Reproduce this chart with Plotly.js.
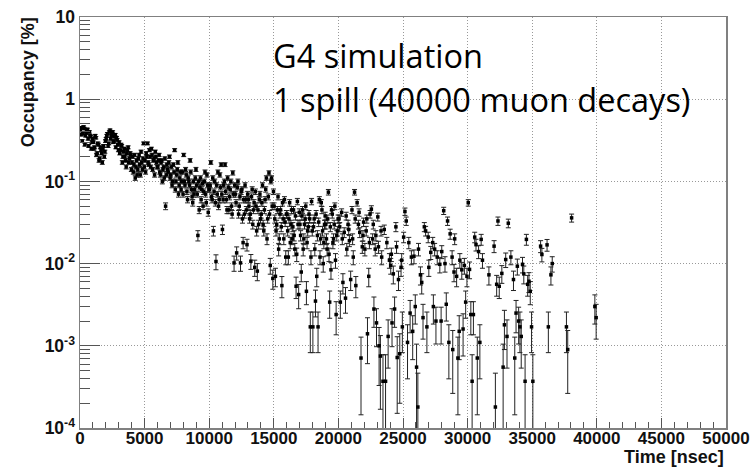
<!DOCTYPE html>
<html>
<head>
<meta charset="utf-8">
<script src="https://cdn.plot.ly/plotly-3.0.1.min.js"></script>
<style>
html,body{margin:0;padding:0;background:#fff;}
#chart{width:751px;height:468px;}
#chart .xtick text, #chart .ytick text { font-weight: bold !important; }
</style>
</head>
<body>
<div id="chart"></div>
<script>
// ---- Data (occupancy in %) ----
// Histogram with 50 ns bins from 0 to 20000 ns; "A" arrays hold the bins starting
// at even multiples of 50 ns, "B" arrays the bins in between.
const binWidthNs = 50;
const occ0to10kA = [
  0.42, 0.45, 0.38, 0.44, 0.36, 0.41, 0.33, 0.40, 0.35, 0.30,
  0.30, 0.26, 0.34, 0.22, 0.28, 0.19, 0.24, 0.17, 0.27, 0.23,
  0.33, 0.38, 0.29, 0.42, 0.36, 0.40, 0.31, 0.37, 0.34, 0.28,
  0.30, 0.24, 0.27, 0.20, 0.25, 0.18, 0.22, 0.26, 0.19, 0.21,
  0.17, 0.13, 0.21, 0.15, 0.12, 0.19, 0.16, 0.23, 0.14, 0.29,
  0.18, 0.22, 0.29, 0.16, 0.20, 0.25, 0.14, 0.19, 0.23, 0.17,
  0.15, 0.21, 0.12, 0.18, 0.14, 0.11, 0.05, 0.16, 0.13, 0.20,
  0.12, 0.09, 0.16, 0.24, 0.10, 0.14, 0.07, 0.11, 0.08, 0.13,
  0.21, 0.09, 0.12, 0.06, 0.10, 0.18, 0.08, 0.055, 0.07, 0.11,
  0.09, 0.022, 0.045, 0.11, 0.08, 0.05, 0.10, 0.07, 0.12, 0.042
];
const occ0to10kB = [
  0.37, 0.31, 0.46, 0.28, 0.39, 0.43, 0.27, 0.36, 0.25, 0.33,
  0.25, 0.36, 0.21, 0.29, 0.18, 0.26, 0.22, 0.25, 0.20, 0.31,
  0.36, 0.27, 0.40, 0.33, 0.38, 0.30, 0.35, 0.26, 0.32, 0.24,
  0.22, 0.28, 0.17, 0.23, 0.20, 0.15, 0.24, 0.17, 0.22, 0.14,
  0.20, 0.16, 0.11, 0.18, 0.14, 0.21, 0.12, 0.17, 0.19, 0.15,
  0.13, 0.20, 0.17, 0.24, 0.15, 0.21, 0.18, 0.12, 0.20, 0.15,
  0.18, 0.13, 0.17, 0.10, 0.15, 0.19, 0.12, 0.14, 0.17, 0.11,
  0.15, 0.10, 0.13, 0.08, 0.12, 0.17, 0.09, 0.13, 0.10, 0.07,
  0.10, 0.14, 0.075, 0.11, 0.09, 0.13, 0.065, 0.10, 0.08, 0.14,
  0.07, 0.10, 0.085, 0.06, 0.095, 0.075, 0.13, 0.055, 0.09, 0.08
];
const occ10kto20kA = [
  0.08, 0.17, 0.06, 0.025, 0.10, 0.0106, 0.07, 0.05, 0.12, 0.16,
  0.026, 0.09, 0.16, 0.06, 0.11, 0.045, 0.08, 0.05, 0.127, 0.0102,
  0.07, 0.0135, 0.10, 0.05, 0.0102, 0.08, 0.018, 0.04, 0.06, 0.017,
  0.06, 0.035, 0.0107, 0.08, 0.045, 0.009, 0.05, 0.0081, 0.03, 0.07,
  0.04, 0.09, 0.025, 0.06, 0.11, 0.035, 0.127, 0.0095, 0.11, 0.0066,
  0.05, 0.007, 0.03, 0.065, 0.02, 0.045, 0.0054, 0.035, 0.06, 0.012,
  0.04, 0.012, 0.055, 0.03, 0.02, 0.045, 0.015, 0.0053, 0.057, 0.0042,
  0.03, 0.0079, 0.045, 0.02, 0.035, 0.0046, 0.025, 0.04, 0.0017, 0.057,
  0.0017, 0.035, 0.0035, 0.007, 0.0017, 0.06, 0.02, 0.045, 0.01, 0.03,
  0.03, 0.015, 0.074, 0.0034, 0.0084, 0.04, 0.02, 0.05, 0.0024, 0.025
];
const occ10kto20kB = [
  0.09, 0.065, 0.11, 0.075, 0.055, 0.09, 0.13, 0.06, 0.085, 0.07,
  0.06, 0.10, 0.075, 0.045, 0.085, 0.065, 0.10, 0.04, 0.07, 0.09,
  0.055, 0.085, 0.04, 0.065, 0.075, 0.035, 0.06, 0.09, 0.045, 0.07,
  0.05, 0.04, 0.065, 0.03, 0.055, 0.075, 0.025, 0.045, 0.06, 0.035,
  0.055, 0.03, 0.045, 0.08, 0.02, 0.065, 0.04, 0.10, 0.05, 0.075,
  0.035, 0.025, 0.045, 0.015, 0.04, 0.028, 0.055, 0.02, 0.032, 0.04,
  0.025, 0.035, 0.018, 0.045, 0.028, 0.022, 0.038, 0.013, 0.03, 0.042,
  0.022, 0.038, 0.015, 0.03, 0.05, 0.018, 0.028, 0.035, 0.012, 0.025,
  0.028, 0.015, 0.04, 0.022, 0.032, 0.012, 0.055, 0.025, 0.018, 0.038,
  0.02, 0.035, 0.013, 0.028, 0.045, 0.018, 0.03, 0.011, 0.022, 0.035
];
// Sparse tail: only non-empty bins (bin centre in ns, occupancy in %)
const time20to30k = [
  20050, 20150, 20250, 20350, 20450, 20550, 20650, 20750, 20850, 20950,
  21050, 21150, 21250, 21350, 21450, 21550, 21650, 21750, 21850, 21950,
  22050, 22150, 22250, 22350, 22450, 22550, 22650, 22750, 22850, 22950,
  23050, 23150, 23250, 23350, 23450, 23550, 23650, 23750, 23850, 23950,
  24050, 24150, 24250, 24350, 24450, 24550, 24650, 24750, 24850, 24950,
  25050, 25150, 25250, 25350, 25450, 25550, 25650, 25750, 25850, 25950,
  26050, 26150, 26350, 26450, 26550, 26650, 26750, 26850, 26950, 27150,
  27350, 27450, 27550, 27650, 27850, 27950, 28150, 28250, 28350, 28450,
  28550, 28650, 28850, 28950, 29150, 29250, 29350, 29550, 29650, 29750,
  29850, 29950
];
const occ20to30k = [
  0.035, 0.0034, 0.042, 0.0059, 0.024, 0.0038, 0.015, 0.03, 0.019, 0.0064,
  0.045, 0.012, 0.074, 0.0054, 0.055, 0.03, 0.024, 0.00071, 0.016, 0.032,
  0.015, 0.025, 0.0014, 0.007, 0.04, 0.046, 0.02, 0.0028, 0.015, 0.0019,
  0.037, 0.001, 0.00075, 0.012, 0.00037, 0.026, 0.00037, 0.018, 0.0013, 0.011,
  0.0095, 0.0019, 0.0075, 0.0028, 0.028, 0.00072, 0.0064, 0.0008, 0.009, 0.0017,
  0.021, 0.043, 0.033, 0.0011, 0.018, 0.0025, 0.012, 0.0015, 0.0123, 0.003,
  0.00055, 0.00018, 0.0073, 0.0059, 0.0022, 0.028, 0.025, 0.0017, 0.021, 0.0137,
  0.003, 0.015, 0.002, 0.012, 0.0098, 0.002, 0.044, 0.01, 0.0032, 0.033,
  0.0011, 0.023, 0.0009, 0.0079, 0.007, 0.00071, 0.0015, 0.0084, 0.0016, 0.0095,
  0.0034, 0.007
];
const time20to30kB = [
  20100, 20300, 20600, 20800, 21100, 21300, 21600, 21900, 22200, 22400,
  22700, 22900, 23100, 23300, 24100, 24500, 24900, 26200, 27000, 27300,
  28000, 28800, 29000, 29400
];
const occ20to30kB = [
  0.028, 0.02, 0.038, 0.026, 0.02, 0.035, 0.042, 0.022, 0.035, 0.018,
  0.03, 0.022, 0.016, 0.025, 0.013, 0.016, 0.011, 0.015, 0.009, 0.018,
  0.014, 0.012, 0.02, 0.011
];
const time30to40k = [
  30050, 30150, 30250, 30350, 30450, 30550, 30650, 30750, 30850, 30950,
  31050, 31150, 31650, 32050, 32150, 32250, 32350, 32450, 32650, 32750,
  32850, 32950, 33050, 33150, 33350, 33550, 33650, 33750, 33850, 33950,
  34050, 34150, 34250, 34350, 34450, 34550, 34650, 34750, 34850, 34950,
  35050, 35650, 35750, 36150, 36250, 36450, 36550, 37650, 37750, 38050,
  39850, 39950
];
const occ30to40k = [
  0.055, 0.0085, 0.0024, 0.00037, 0.0024, 0.021, 0.017, 0.00071, 0.014, 0.0011,
  0.0197, 0.011, 0.0073, 0.0163, 0.00018, 0.0056, 0.033, 0.0053, 0.0076, 0.00055,
  0.0018, 0.0112, 0.0013, 0.031, 0.012, 0.0064, 0.00071, 0.0025, 0.0093, 0.002,
  0.0017, 0.0013, 0.0098, 0.0075, 0.00037, 0.0197, 0.0056, 0.0061, 0.0046, 0.0017,
  0.00037, 0.0163, 0.0129, 0.0169, 0.0017, 0.0073, 0.01, 0.0017, 0.0009, 0.036,
  0.003, 0.0022
];
// Occupancy (%) carried by a single hit; error bars are Poisson: sqrt(N) hits
const occPerHit = 0.00045;

const yTickVals = [1e-4, 1e-3, 1e-2, 1e-1, 1, 10];
const yTickText = ['10<sup>-4</sup>', '10<sup>-3</sup>', '10<sup>-2</sup>', '10<sup>-1</sup>', '1', '10'];
const xTickVals = [0, 5000, 10000, 15000, 20000, 25000, 30000, 35000, 40000, 45000, 50000];
const yMinorVals = [];
[1e-4, 1e-3, 1e-2, 1e-1, 1].forEach(d => { for (let k = 2; k <= 9; k++) yMinorVals.push(k * d); });
const xMinorVals = [];
for (let t = 1000; t < 50000; t += 1000) if (t % 5000) xMinorVals.push(t);

// ---- Build the trace ----
const xs = [], ys = [];
occ0to10kA.forEach((v, i) => { xs.push((2 * i + 0.5) * binWidthNs); ys.push(v); });
occ0to10kB.forEach((v, i) => { xs.push((2 * i + 1.5) * binWidthNs); ys.push(v); });
occ10kto20kA.forEach((v, i) => { xs.push(10000 + (2 * i + 0.5) * binWidthNs); ys.push(v); });
occ10kto20kB.forEach((v, i) => { xs.push(10000 + (2 * i + 1.5) * binWidthNs); ys.push(v); });
time20to30k.forEach((t, i) => { xs.push(t); ys.push(occ20to30k[i]); });
time20to30kB.forEach((t, i) => { xs.push(t); ys.push(occ20to30kB[i]); });
time30to40k.forEach((t, i) => { xs.push(t); ys.push(occ30to40k[i]); });
const errs = ys.map(v => Math.sqrt(v / occPerHit) * occPerHit);

const trace = {
  type: 'scatter', mode: 'markers', x: xs, y: ys,
  marker: {symbol: 'square', size: 3.5, color: '#000'},
  error_y: {type: 'data', array: errs, visible: true, color: '#222', thickness: 1, width: 2.5},
  hoverinfo: 'skip', cliponaxis: true
};

const gridDash = '1px,2px';
const layout = {
  width: 751, height: 468,
  margin: {l: 80, r: 25, t: 17, b: 40, pad: 0},
  paper_bgcolor: '#fff', plot_bgcolor: '#fff',
  showlegend: false,
  xaxis: {
    range: [0, 50000], tickmode: 'array', tickvals: xTickVals, ticktext: xTickVals.map(String),
    ticks: 'inside', ticklen: 10, tickwidth: 1, tickcolor: '#555',
    showline: true, linecolor: '#808080', linewidth: 1.5, mirror: true,
    showgrid: true, gridcolor: '#999', griddash: gridDash, gridwidth: 1,
    zeroline: false, ticklabelstandoff: -6,
    tickfont: {family: 'Liberation Sans', size: 17, color: '#111', weight: 700},
    minor: {tickmode: 'array', tickvals: xMinorVals, ticks: 'inside', ticklen: 6, tickwidth: 1, tickcolor: '#555', showgrid: false}
  },
  yaxis: {
    type: 'log', range: [-4, 1], tickmode: 'array', tickvals: yTickVals, ticktext: yTickText,
    ticks: 'inside', ticklen: 20, tickwidth: 1, tickcolor: '#555',
    showline: true, linecolor: '#808080', linewidth: 1.5, mirror: true,
    showgrid: true, gridcolor: '#999', griddash: gridDash, gridwidth: 1,
    zeroline: false,
    tickfont: {family: 'Liberation Sans', size: 17.5, color: '#111', weight: 700},
    minor: {tickmode: 'array', tickvals: yMinorVals, ticks: 'inside', ticklen: 10, tickwidth: 1, tickcolor: '#555', showgrid: false}
  },
  annotations: [
    {text: 'Occupancy [%]', textangle: -90, xref: 'paper', yref: 'paper',
     x: -0.08, y: 1.005, xanchor: 'center', yanchor: 'top', showarrow: false,
     font: {family: 'Liberation Sans', size: 18, color: '#111', weight: 700}},
    {text: 'Time [nsec]', xref: 'paper', yref: 'paper', x: 1, y: -0.07,
     xanchor: 'right', yanchor: 'middle', showarrow: false,
     font: {family: 'Liberation Sans', size: 18, color: '#111', weight: 700}},
    {text: 'G4 simulation', xref: 'paper', yref: 'paper', x: 0.295, y: 0.906,
     xanchor: 'left', yanchor: 'middle', showarrow: false,
     font: {family: 'Open Sans, sans-serif', size: 32.5, color: '#000'}},
    {text: '1 spill (40000 muon decays)', xref: 'paper', yref: 'paper', x: 0.295, y: 0.8,
     xanchor: 'left', yanchor: 'middle', showarrow: false,
     font: {family: 'Open Sans, sans-serif', size: 32.5, color: '#000'}}
  ]
};

Plotly.newPlot('chart', [trace], layout, {displayModeBar: false, staticPlot: true});
</script>
</body>
</html>
